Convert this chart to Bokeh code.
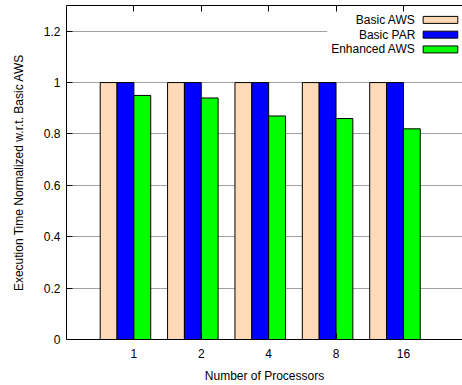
from bokeh.plotting import figure
from bokeh.models import FixedTicker, LinearAxis, Range1d, Label, BoxAnnotation, CustomLabelingPolicy
from bokeh.embed import file_html
from bokeh.resources import INLINE

# ---- data ----
categories = ["1", "2", "4", "8", "16"]
series_names = ["Basic AWS", "Basic PAR", "Enhanced AWS"]
basic_aws = [1.0, 1.0, 1.0, 1.0, 1.0]
basic_par = [1.0, 1.0, 1.0, 1.0, 1.0]
enhanced_aws = [0.95, 0.94, 0.87, 0.86, 0.82]
y_ticks = [0, 0.2, 0.4, 0.6, 0.8, 1.0, 1.2]
y_tick_labels = ["0", "0.2", "0.4", "0.6", "0.8", "1", "1.2"]
colors = ["#FFDAB9", "#0000FF", "#00FF00"]
x_title = "Number of Processors"
y_title = "Execution Time Normalized w.r.t. Basic AWS"

series_values = [basic_aws, basic_par, enhanced_aws]
x_pos = list(range(1, len(categories) + 1))
bar_w = 0.25
FONT = "Liberation Sans"
X_END = 5.877

p = figure(width=462, height=385, x_range=Range1d(0, X_END), y_range=Range1d(0, 1.3),
           output_backend="svg", toolbar_location=None,
           min_border_left=66, min_border_right=0, min_border_top=5, min_border_bottom=46,
           x_axis_label=x_title, y_axis_label=y_title)
p.outline_line_color = None
p.background_fill_color = "white"
p.border_fill_color = "white"

for i, (vals, col) in enumerate(zip(series_values, colors)):
    off = -1.5 * bar_w + i * bar_w
    p.vbar(x=[x + off for x in x_pos], top=vals, width=bar_w,
           fill_color=col, line_color="black", line_width=1)

# grid
p.xgrid.grid_line_color = None
p.ygrid.ticker = FixedTicker(ticks=y_ticks)
p.ygrid.grid_line_color = "#a0a0a0"
p.ygrid.grid_line_width = 1

# axes
for ax in (p.xaxis[0], p.yaxis[0]):
    ax.major_tick_in = 6
    ax.major_tick_out = 0
    ax.minor_tick_line_color = None
    ax.axis_line_color = "black"
    ax.major_tick_line_color = "black"
    ax.major_label_text_font = FONT
    ax.major_label_text_font_size = "12px"
    ax.major_label_text_color = "black"
    ax.axis_label_text_font = FONT
    ax.axis_label_text_font_size = "12px"
    ax.axis_label_text_font_style = "normal"
    ax.axis_label_text_color = "black"

p.xaxis.ticker = FixedTicker(ticks=x_pos)
p.xaxis.major_label_overrides = {x: c for x, c in zip(x_pos, categories)}
p.xaxis.major_label_standoff = 9
p.xaxis.axis_label_standoff = 8

p.yaxis.ticker = FixedTicker(ticks=y_ticks)
p.yaxis.major_label_overrides = {t: l for t, l in zip(y_ticks, y_tick_labels)}
p.yaxis.major_label_standoff = 6
p.yaxis.axis_label_standoff = 15

top_axis = LinearAxis(ticker=FixedTicker(ticks=x_pos), major_tick_in=6, major_tick_out=0,
                      major_label_text_font_size="0px", major_label_standoff=0,
                      major_label_policy=CustomLabelingPolicy(code="""
                          for (const i of indices) indices.unset(i)
                          return indices
                      """),
                      minor_tick_line_color=None, axis_line_color="black",
                      major_tick_line_color="black")
p.add_layout(top_axis, "above")

# legend (labels left, swatches right)
legend_y0 = 1.244
legend_step = 0.0575
sw_h = 0.0272
sw_left, sw_right = 5.293, 5.807
text_x = 5.178
p.add_layout(BoxAnnotation(left=3.87, right=X_END, top=1.265, bottom=1.098,
                           fill_color="white", fill_alpha=1, line_color=None))
for i, (name, col) in enumerate(zip(series_names, colors)):
    yy = legend_y0 - i * legend_step
    p.add_layout(BoxAnnotation(left=sw_left, right=sw_right, bottom=yy - sw_h / 2, top=yy + sw_h / 2,
                               fill_color=col, fill_alpha=1, line_color="black", line_alpha=1,
                               line_width=1))
    p.add_layout(Label(x=text_x, y=yy, text=name, text_align="right", text_baseline="middle",
                       text_font=FONT, text_font_size="12px", text_color="black"))

open("out.html", "w").write(file_html(p, INLINE))
